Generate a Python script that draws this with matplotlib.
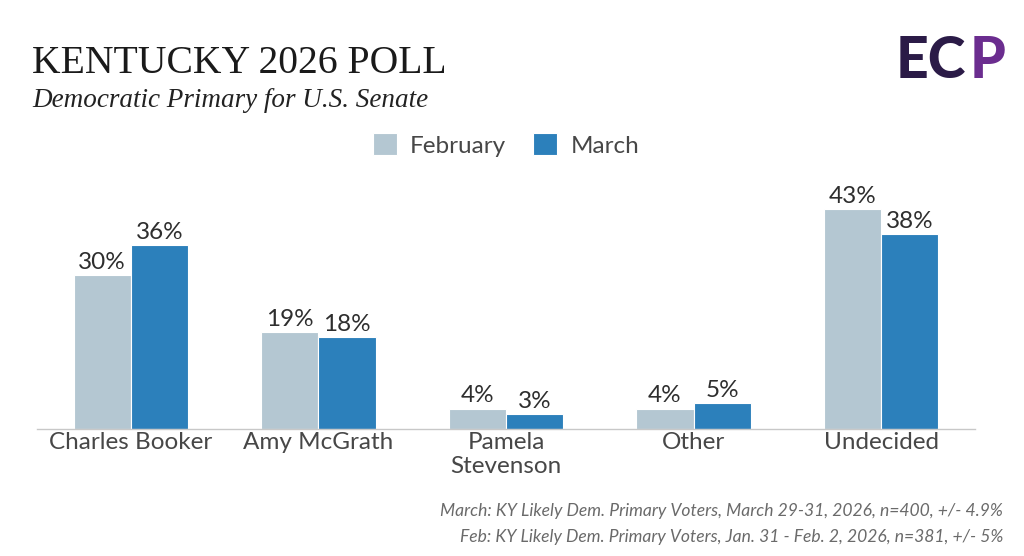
import numpy as np
from matplotlib import pyplot as plt

candidates = ['Charles Booker', 'Amy McGrath', 'Pamela\nStevenson', 'Other', 'Undecided']
february = [30, 19, 4, 4, 43]
march = [36, 18, 3, 5, 38]
series_names = ['February', 'March']

feb_color = '#b4c7d2'
mar_color = '#2c80bb'
text_color = '#2e2e2e'

plt.rcParams['font.family'] = ['Lato', 'DejaVu Sans']

fig = plt.figure(figsize=(10.24, 5.56), dpi=100)
# axes placed in pixel terms: x 37..975, baseline at y=429 (from top)
W, H = 1024, 556
ax = fig.add_axes([37/W, 1 - 429/H, (975-37)/W, (429-198.6)/H])

x = np.arange(len(candidates))
w = 0.305
b1 = ax.bar(x - w/2, february, w, color=feb_color, edgecolor='white', linewidth=0.8, label=series_names[0])
b2 = ax.bar(x + w/2, march, w, color=mar_color, edgecolor='white', linewidth=0.8, label=series_names[1])

for bars, vals in [(b1, february), (b2, march)]:
    for bar, v in zip(bars, vals):
        ax.text(bar.get_x() + bar.get_width()/2, v + 0.4, f'{v}%', ha='center', va='bottom',
                fontsize=17.5, color=text_color)

ax.set_xlim(-0.5, 4.5)
ax.set_ylim(0, 45)
ax.set_xticks(x)
ax.set_xticklabels(candidates, fontsize=17.5, color='#474747', linespacing=1.2)
ax.tick_params(axis='x', length=0, pad=2)
ax.set_yticks([])
for s in ['top', 'right', 'left']:
    ax.spines[s].set_visible(False)
ax.spines['bottom'].set_color('#c8c8c8')
ax.spines['bottom'].set_linewidth(1)
ax.patch.set_alpha(0)

leg = fig.legend(loc='center', bbox_to_anchor=(506/W, 1 - 145/H), ncol=2, frameon=False,
                 prop={'size': 17.5}, handlelength=1.0, handleheight=1.0,
                 handletextpad=0.55, columnspacing=1.1, labelcolor='#474747')

# title block
fig.text(32/W, 1 - 73/H, 'KENTUCKY 2026 POLL', fontsize=28.5, family='Liberation Serif',
         color='#1a1a1a', ha='left', va='baseline')
fig.text(32/W, 1 - 107/H, 'Democratic Primary for U.S. Senate', fontsize=19.5, family='Liberation Serif',
         style='italic', color='#222222', ha='left', va='baseline')

# logo approximation
fig.text(896/W, 1 - 78/H, 'EC', fontsize=41, fontweight='black', color='#2b1b47',
         ha='left', va='baseline')
fig.text(1005/W, 1 - 78/H, 'P', fontsize=41, fontweight='black', color='#6b2d8f',
         ha='right', va='baseline')

# footnotes
fig.text(1003/W, 1 - 516/H, 'March: KY Likely Dem. Primary Voters, March 29-31, 2026, n=400, +/- 4.9%',
         fontsize=12.6, style='italic', color='#6a6a6a', ha='right', va='baseline')
fig.text(1003/W, 1 - 542/H, 'Feb: KY Likely Dem. Primary Voters, Jan. 31 - Feb. 2, 2026, n=381, +/- 5%',
         fontsize=12.6, style='italic', color='#6a6a6a', ha='right', va='baseline')

fig.savefig('out.png', dpi=100)
